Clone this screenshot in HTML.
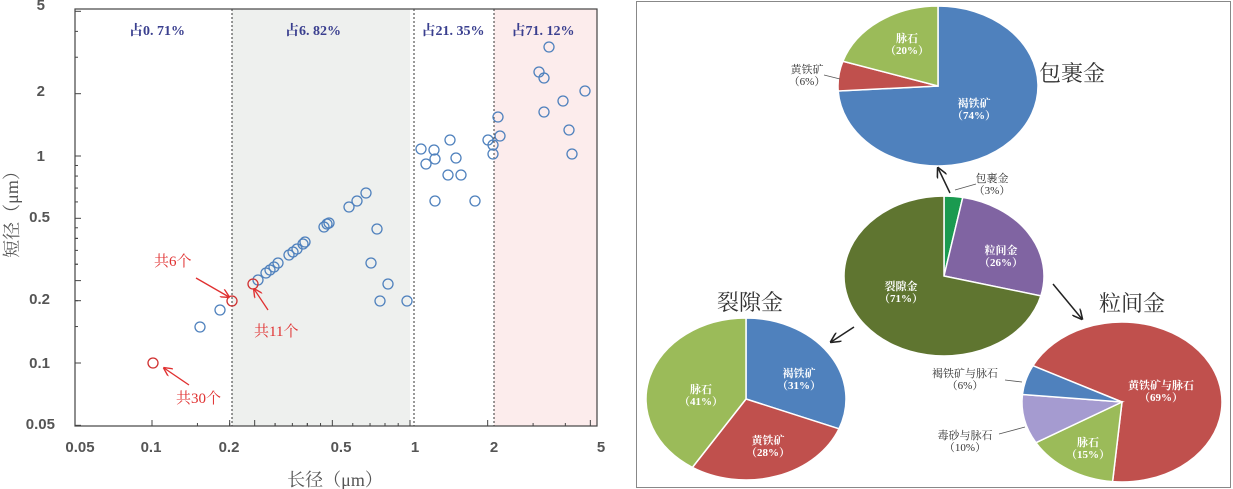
<!DOCTYPE html>
<html><head><meta charset="utf-8"><style>
html,body{margin:0;padding:0;background:#fff;width:1233px;height:489px;overflow:hidden}
text{font-family:"Liberation Serif","Noto Serif CJK SC",serif}
.s text{font-family:"Liberation Sans","Noto Sans CJK SC",sans-serif}
</style></head><body>
<svg id="svg" width="1233" height="489" viewBox="0 0 1233 489" xmlns="http://www.w3.org/2000/svg">
<defs>
<marker id="ar" viewBox="0 0 10 10" refX="9" refY="5" markerWidth="7" markerHeight="7" orient="auto"><path d="M0,0 L10,5 L0,10" fill="none" stroke="#e03030" stroke-width="1.5"/></marker>
<marker id="ak" viewBox="0 0 10 10" refX="9" refY="5" markerWidth="7" markerHeight="7" orient="auto"><path d="M0,0 L10,5 L0,10" fill="none" stroke="#222" stroke-width="1.5"/></marker>
</defs>
<rect x="232" y="9" width="178" height="417" fill="#eef0ee"/>
<rect x="494" y="9" width="103" height="417" fill="#fcecec"/>
<g stroke="#333" stroke-width="1" stroke-dasharray="2,2">
<line x1="232" y1="9" x2="232" y2="426"/><line x1="414" y1="9" x2="414" y2="426"/><line x1="494" y1="9" x2="494" y2="426"/></g>
<rect x="75" y="9" width="522" height="417" fill="none" stroke="#444" stroke-width="1.2"/>
<g id="ticks" stroke="#444" stroke-width="1"></g>
<g class="s" font-size="15" font-weight="bold" fill="#555" text-anchor="end">
<text x="45" y="10">5</text><text x="45" y="96">2</text><text x="45" y="161">1</text><text x="50" y="222">0.5</text><text x="50" y="304">0.2</text><text x="50" y="368">0.1</text><text x="55" y="429">0.05</text></g>
<g class="s" font-size="15" font-weight="bold" fill="#555" text-anchor="middle">
<text x="80" y="452">0.05</text><text x="151" y="452">0.1</text><text x="229" y="452">0.2</text><text x="341" y="452">0.5</text><text x="415" y="452">1</text><text x="494" y="452">2</text><text x="601" y="452">5</text></g>
<text x="335" y="486" font-size="18" fill="#555" text-anchor="middle">长径（μm）</text>
<text transform="translate(18,210) rotate(-90)" font-size="18" fill="#555" text-anchor="middle">短径（μm）</text>
<g font-size="14" fill="#3a3f8f" font-weight="bold" text-anchor="middle">
<text x="157" y="35">占0. 71%</text><text x="313" y="35">占6. 82%</text><text x="453" y="35">占21. 35%</text><text x="543" y="35">占71. 12%</text></g>
<g id="pts" fill="none" stroke="#4f81bd" stroke-width="1.3"></g>
<g fill="none" stroke="#d03030" stroke-width="1.3"><circle cx="232" cy="301" r="5"/><circle cx="153" cy="363" r="5"/><circle cx="253" cy="284" r="5"/></g>
<g stroke="#e03030" stroke-width="1.3" marker-end="url(#ar)">
<line x1="196" y1="278" x2="229" y2="297"/><line x1="268" y1="310" x2="254" y2="289"/><line x1="189" y1="385" x2="164" y2="368"/></g>
<g font-size="15" fill="#e03030">
<text x="154" y="266">共6个</text><text x="254" y="336">共11个</text><text x="176" y="403">共30个</text></g>
<rect x="636.5" y="1.5" width="594" height="486" fill="#fff" stroke="#888" stroke-width="1"/>
<g id="pies"></g>
<g stroke="#222" stroke-width="1.5" marker-end="url(#ak)">
<line x1="950" y1="193" x2="938" y2="168"/><line x1="854" y1="327" x2="831" y2="342"/><line x1="1053" y1="284" x2="1082" y2="319"/></g>
<g stroke="#555" stroke-width="0.8"><line x1="824" y1="75" x2="840" y2="79"/><line x1="955" y1="190" x2="976" y2="184"/><line x1="1005" y1="380" x2="1022" y2="382"/><line x1="999" y1="434" x2="1025" y2="427"/></g>
<g font-size="22" fill="#333" text-anchor="middle">
<text x="1072" y="81">包裹金</text><text x="750" y="310">裂隙金</text><text x="1132" y="311">粒间金</text></g>
<g font-size="11" font-weight="bold" text-anchor="middle" fill="#fff">
<text x="907" y="42">脉石</text><text x="907" y="54">（20%）</text>
<text x="974" y="107">褐铁矿</text><text x="974" y="119">（74%）</text>
<text x="1001" y="254">粒间金</text><text x="1001" y="266">（26%）</text>
<text x="901" y="290">裂隙金</text><text x="901" y="302">（71%）</text>
<text x="799" y="377">褐铁矿</text><text x="799" y="389">（31%）</text>
<text x="701" y="393">脉石</text><text x="701" y="405">（41%）</text>
<text x="768" y="444">黄铁矿</text><text x="768" y="456">（28%）</text>
<text x="1161" y="389">黄铁矿与脉石</text><text x="1161" y="401">（69%）</text>
<text x="1088" y="446">脉石</text><text x="1088" y="458">（15%）</text></g>
<g font-size="11" text-anchor="middle" fill="#333">
<text x="807" y="73">黄铁矿</text><text x="807" y="85">（6%）</text>
<text x="992" y="182">包裹金</text><text x="992" y="194">（3%）</text>
<text x="965" y="377">褐铁矿与脉石</text><text x="965" y="389">（6%）</text>
<text x="965" y="439">毒砂与脉石</text><text x="965" y="451">（10%）</text></g>
</svg>
<script>
var P=[[200,327],[220,310],[258,280],[266,273],[270,270],[274,267],[278,263],[289,255],[293,252],[297,249],[303,244],[305,242],[324,227],[327,224],[329,223],[349,207],[357,201],[366,193],[377,229],[371,263],[388,284],[380,301],[407,301],[421,149],[426,164],[434,150],[435,159],[435,201],[448,175],[450,140],[456,158],[461,175],[475,201],[488,140],[493,145],[493,154],[498,117],[500,136],[539,72],[544,78],[549,47],[544,112],[563,101],[569,130],[572,154],[585,91]];
var h='';P.forEach(function(p){h+='<circle cx="'+p[0]+'" cy="'+p[1]+'" r="5"/>';});document.getElementById('pts').innerHTML=h;
var t='';
[0.05,0.1,1].forEach(function(d){for(var k=1;k<10;k++){var v=d*k;if(v<0.05||v>5)continue;
var x=152+258*Math.log10(v/0.1),y=363-207*Math.log10(v/0.1);var L=(k==1||k==2||k==5)?6:3;
if(x>=75&&x<=597)t+='<line x1="'+x+'" y1="426" x2="'+x+'" y2="'+(426-L)+'"/>';
if(y>=9&&y<=426)t+='<line x1="75" y1="'+y+'" x2="'+(75+L)+'" y2="'+y+'"/>';}});
document.getElementById('ticks').innerHTML=t;
var C={b:'#4f81bd',r:'#c0504d',g:'#9bbb59',p:'#8064a2',lp:'#a59bd0',o:'#5f7530',dg:'#1a9a50'};
function pie(cx,cy,rx,ry,start,sl){var a=start,s='';sl.forEach(function(x){var b=a+x[0]*3.6,r1=a*Math.PI/180,r2=b*Math.PI/180;
var x1=cx+rx*Math.sin(r1),y1=cy-ry*Math.cos(r1),x2=cx+rx*Math.sin(r2),y2=cy-ry*Math.cos(r2);
s+='<path d="M'+cx+','+cy+' L'+x1+','+y1+' A'+rx+','+ry+' 0 '+((b-a)>180?1:0)+' 1 '+x2+','+y2+' Z" fill="'+x[1]+'" stroke="#fff" stroke-width="1.5"/>';a=b;});return s;}
var s='';
s+=pie(938,86,100,80,0,[[74,C.b],[6,C.r],[20,C.g]]);
s+=pie(944,276,100,80,0,[[3,C.dg],[26,C.p],[71,C.o]]);
s+=pie(746,399,100,81,0,[[31,C.b],[28,C.r],[41,C.g]]);
s+=pie(1122,402,100,80,297,[[69,C.r],[15,C.g],[10,C.lp],[6,C.b]]);
document.getElementById('pies').innerHTML=s;
</script>
</body></html>
